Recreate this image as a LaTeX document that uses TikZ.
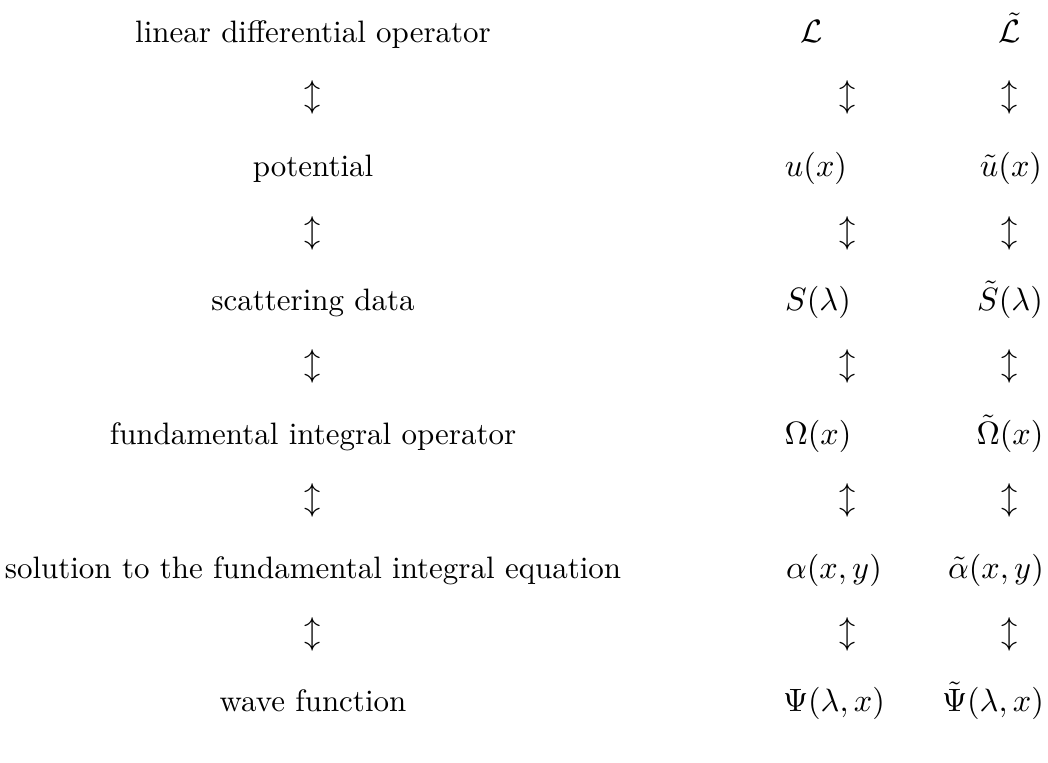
\documentclass[tikz,border=0pt]{standalone}
\usepackage{amsmath}
\usepackage{tikz}
\usetikzlibrary{positioning}

\begin{document}
\begin{tikzpicture}[
  x=0.339pt, y=-0.339pt,
  every node/.style={font=\fontsize{10.5pt}{12.6pt}\selectfont},
  term/.style={inner sep=0pt, anchor=base},
  swap/.style={inner sep=0pt}
]
  \useasboundingbox (0,0) rectangle (1048,763);

  % Left column: names
  \node[term] (lop) at (313,43) {linear differential operator};
  \node[term] (pot) at (313,177) {potential};
  \node[term] (sca) at (313,311) {scattering data};
  \node[term] (fio) at (313,445) {fundamental integral operator};
  \node[term] (sol) at (313,579) {solution to the fundamental integral equation};
  \node[term] (wav) at (313,712) {wave function};

  % Middle column
  \node[term] (L) at (812,43) {$\mathcal{L}$};
  \node[term] (u) at (816,177) {$u(x)$};
  \node[term] (S) at (818,311) {$S(\lambda)$};
  \node[term] (Om) at (818,445) {$\Omega(x)$};
  \node[term] (al) at (834,579) {$\alpha(x,y)$};
  \node[term] (Psi) at (834,712) {$\Psi(\lambda,x)$};

  % Right column
  \node[term] (Lt) at (1010,43) {$\tilde{\mathcal{L}}$};
  \node[term] (ut) at (1011,177) {$\tilde{u}(x)$};
  \node[term] (St) at (1010,311) {$\tilde{S}(\lambda)$};
  \node[term] (Omt) at (1010,445) {$\tilde{\Omega}(x)$};
  \node[term] (alt) at (996,579) {$\tilde{\alpha}(x,y)$};
  \node[term] (Psit) at (993,712) {$\tilde{\Psi}(\lambda,x)$};

  % Arrows between rows
  \node[swap] (a1) at (313,97) {$\updownarrow$};
  \node[swap] (a2) at (313,233) {$\updownarrow$};
  \node[swap] (a3) at (313,366) {$\updownarrow$};
  \node[swap] (a4) at (313,500) {$\updownarrow$};
  \node[swap] (a5) at (313,634) {$\updownarrow$};
  \node[swap] (b1) at (848,97) {$\updownarrow$};
  \node[swap] (b2) at (848,233) {$\updownarrow$};
  \node[swap] (b3) at (848,366) {$\updownarrow$};
  \node[swap] (b4) at (848,500) {$\updownarrow$};
  \node[swap] (b5) at (848,634) {$\updownarrow$};
  \node[swap] (c1) at (1010,97) {$\updownarrow$};
  \node[swap] (c2) at (1010,233) {$\updownarrow$};
  \node[swap] (c3) at (1010,366) {$\updownarrow$};
  \node[swap] (c4) at (1010,500) {$\updownarrow$};
  \node[swap] (c5) at (1010,634) {$\updownarrow$};
\end{tikzpicture}
\end{document}
